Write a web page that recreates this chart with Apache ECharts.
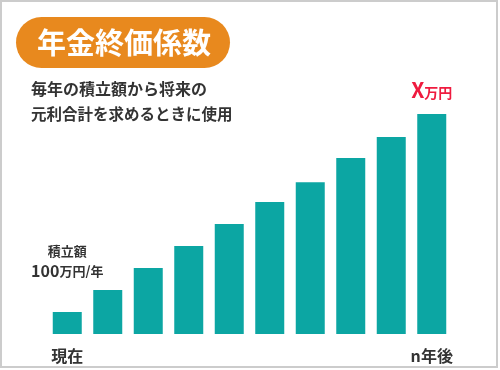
<!DOCTYPE html>
<html>
<head>
<meta charset="utf-8">
<script src="https://cdn.jsdelivr.net/npm/echarts@6/dist/echarts.min.js"></script>
<style>
html,body{margin:0;padding:0;background:#fff;}
#c{width:500px;height:370px;}
</style>
</head>
<body>
<div id="c"></div>
<script>
const categories = ['現在', '2年', '3年', '4年', '5年', '6年', '7年', '8年', '9年', 'n年後'];
const values = [1.0, 2.0, 3.0, 4.0, 5.0, 6.0, 6.9, 8.0, 8.95, 10.0];
const titleText = '年金終価係数';
const subLines = ['毎年の積立額から将来の', '元利合計を求めるときに使用'];

const FONT = '"Noto Sans CJK JP", "Noto Sans", sans-serif';
const chart = echarts.init(document.getElementById('c'), null, {renderer: 'canvas'});

const data = values.map((v, i) => {
  const d = {value: v};
  if (i === 0) {
    d.label = {
      show: true, position: 'top', distance: 31,
      formatter: '{a|積立額}\n{b|100}{c|万円/年}',
      rich: {
        a: {fontSize: 13, fontWeight: 'bold', color: '#333', fontFamily: FONT, lineHeight: 20, align: 'center'},
        b: {fontSize: 16, fontWeight: 'bold', color: '#333', fontFamily: FONT, lineHeight: 20},
        c: {fontSize: 13, fontWeight: 'bold', color: '#333', fontFamily: FONT, lineHeight: 20}
      }
    };
  }
  if (i === values.length - 1) {
    d.label = {
      show: true, position: 'top', distance: 13,
      formatter: '{x|X}{u|万円}',
      rich: {
        x: {fontSize: 21, fontWeight: 'bold', color: '#ef1b3f', fontFamily: FONT},
        u: {fontSize: 14, fontWeight: 'bold', color: '#ef1b3f', fontFamily: FONT, padding: [4, 0, 0, 0]}
      }
    };
  }
  return d;
});

chart.setOption({
  animation: false,
  backgroundColor: '#fff',
  grid: {left: 47, right: 48, top: 114, bottom: 36},
  xAxis: {
    type: 'category',
    data: categories,
    axisLine: {show: false},
    axisTick: {show: false},
    axisLabel: {
      interval: (i) => i === 0 || i === categories.length - 1,
      margin: 14,
      fontSize: 16, fontWeight: 'bold', color: '#333', fontFamily: FONT
    }
  },
  yAxis: {type: 'value', min: 0, max: 10, show: false},
  series: [{
    type: 'bar',
    data: data,
    barWidth: 29,
    itemStyle: {color: '#0ca6a3'}
  }],
  graphic: [
    {type: 'rect', shape: {x: 1, y: 1, width: 496, height: 366}, style: {fill: null, stroke: '#cccccc', lineWidth: 2}, silent: true},
    {type: 'rect', shape: {x: 16, y: 17, width: 214, height: 51, r: 25.5}, style: {fill: '#e8891e'}},
    {type: 'text', x: 124, y: 43, style: {text: titleText, fill: '#fff', font: 'bold 29px ' + FONT, textAlign: 'center', textVerticalAlign: 'middle'}},
    {type: 'text', x: 31, y: 89, style: {text: subLines[0], fill: '#333', font: 'bold 16px ' + FONT, textAlign: 'left', textVerticalAlign: 'middle'}},
    {type: 'text', x: 31, y: 114, style: {text: subLines[1], fill: '#333', font: 'bold 15.5px ' + FONT, textAlign: 'left', textVerticalAlign: 'middle'}}
  ]
});
</script>
</body>
</html>
